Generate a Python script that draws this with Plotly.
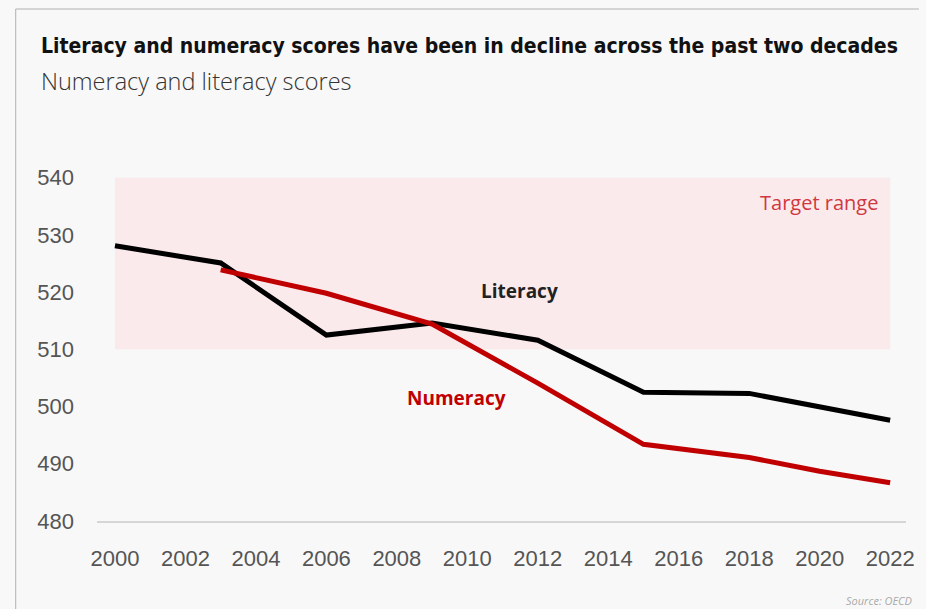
import plotly.graph_objects as go

lit_years = [2000, 2003, 2006, 2009, 2012, 2015, 2018, 2022]
lit_scores = [528.1, 525.1, 512.5, 514.6, 511.6, 502.5, 502.3, 497.6]
num_years = [2003, 2006, 2009, 2012, 2015, 2018, 2020, 2022]
num_scores = [523.9, 519.8, 514.4, 504.1, 493.4, 491.1, 488.7, 486.7]
x_ticks = list(range(2000, 2023, 2))
y_ticks = [480, 490, 500, 510, 520, 530, 540]
target_low, target_high = 510, 540

W, H = 926, 609
L, R, T, B = 97, 913, 172, 521

def px(x):
    return (x - L) / (R - L)

def py(y):
    return (B - y) / (B - T)

fig = go.Figure()
fig.add_shape(type="rect", xref="x", yref="y", x0=2000, x1=2022, y0=target_low, y1=target_high,
              fillcolor="#fbe8ea", line_width=0, layer="below", opacity=0.85)
fig.add_trace(go.Scatter(x=lit_years, y=lit_scores, mode="lines",
                         line=dict(color="#000000", width=5), name="Literacy"))
fig.add_trace(go.Scatter(x=num_years, y=num_scores, mode="lines",
                         line=dict(color="#c00000", width=5), name="Numeracy"))

ann = []
ann.append(dict(text="<b>Literacy and numeracy scores have been in decline across the past two decades</b>",
                x=px(38), y=py(46), xref="paper", yref="paper", xanchor="left", yanchor="middle",
                showarrow=False, font=dict(family="DejaVu Sans Condensed", size=21, color="#111111")))
ann.append(dict(text="Numeracy and literacy scores", x=px(38), y=py(81), xref="paper", yref="paper",
                xanchor="left", yanchor="middle", showarrow=False,
                font=dict(family="Open Sans", size=23.5, color="#333333", weight=300)))
ann.append(dict(text="<b>Literacy</b>", x=px(482), y=py(291), xref="paper", yref="paper",
                xanchor="left", yanchor="middle", showarrow=False,
                font=dict(family="Open Sans", size=19, color="#222222")))
ann.append(dict(text="<b>Numeracy</b>", x=px(408), y=py(398), xref="paper", yref="paper",
                xanchor="left", yanchor="middle", showarrow=False,
                font=dict(family="Open Sans", size=19, color="#c00000")))
ann.append(dict(text="Target range", x=px(887), y=py(202), xref="paper", yref="paper",
                xanchor="right", yanchor="middle", showarrow=False,
                font=dict(family="Open Sans", size=20, color="#d0383f")))
ann.append(dict(text="<i>Source: OECD</i>", x=px(921), y=py(600), xref="paper", yref="paper",
                xanchor="right", yanchor="middle", showarrow=False,
                font=dict(family="Open Sans", size=11, color="#aaaaaa")))

# slide frame
fig.add_shape(type="line", xref="paper", yref="paper", x0=px(15), x1=px(15), y0=py(9), y1=py(609),
              line=dict(color="#b0b0b0", width=1))
fig.add_shape(type="line", xref="paper", yref="paper", x0=px(15), x1=px(926), y0=py(9), y1=py(9),
              line=dict(color="#b0b0b0", width=1))

fig.update_layout(
    width=W, height=H, autosize=False,
    margin=dict(l=L, r=W - R, t=T, b=H - B, pad=0),
    paper_bgcolor="#f8f8f8", plot_bgcolor="rgba(0,0,0,0)",
    showlegend=False,
    annotations=ann,
    xaxis=dict(range=[1999.49, 2022.45], tickvals=x_ticks, ticks="", showgrid=False,
               showline=True, linecolor="#d6d6d6", linewidth=2, zeroline=False,
               tickfont=dict(family="Liberation Sans", size=22, color="#555555"),
               ticklabelstandoff=17),
    yaxis=dict(range=[480, 541], tickvals=y_ticks, ticks="", showgrid=False, zeroline=False,
               showline=False,
               tickfont=dict(family="Liberation Sans", size=22, color="#555555"),
               ticklabelstandoff=22),
)
fig.write_html("out.html", config={"displayModeBar": False, "responsive": False},
               post_script="document.body.style.margin='0';document.body.style.overflow='hidden';")
